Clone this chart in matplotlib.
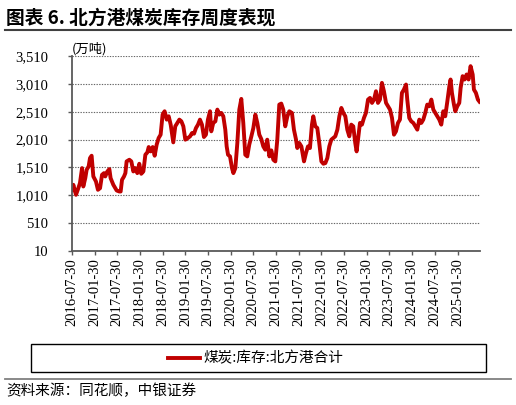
import matplotlib
matplotlib.use("Agg")
import matplotlib.pyplot as plt
import pandas as pd
from matplotlib.lines import Line2D
from matplotlib.patches import Rectangle

dates = [
    "2016-07-30", "2016-08-10", "2016-08-31", "2016-09-19", "2016-10-02", "2016-10-19", "2016-10-29",
    "2016-11-14", "2016-11-25", "2016-12-11", "2016-12-22", "2017-01-04", "2017-01-18", "2017-02-08",
    "2017-02-24", "2017-03-13", "2017-03-29", "2017-04-14", "2017-04-24", "2017-05-11", "2017-05-27",
    "2017-06-06", "2017-06-28", "2017-07-25", "2017-08-15", "2017-08-26", "2017-09-06", "2017-09-22",
    "2017-10-03", "2017-10-13", "2017-11-04", "2017-11-20", "2017-12-06", "2017-12-22", "2018-01-07",
    "2018-01-23", "2018-02-08", "2018-02-25", "2018-03-13", "2018-03-29", "2018-04-09", "2018-04-25",
    "2018-05-11", "2018-05-27", "2018-06-12", "2018-06-28", "2018-07-14", "2018-07-30", "2018-08-15",
    "2018-09-01", "2018-09-17", "2018-10-03", "2018-10-24", "2018-11-09", "2018-11-25", "2018-12-12",
    "2018-12-28", "2019-01-13", "2019-01-29", "2019-02-19", "2019-03-08", "2019-03-24", "2019-04-09",
    "2019-04-25", "2019-05-11", "2019-05-27", "2019-06-12", "2019-06-28", "2019-07-14", "2019-07-30",
    "2019-08-16", "2019-08-26", "2019-09-11", "2019-09-28", "2019-10-14", "2019-10-30", "2019-11-15",
    "2019-12-01", "2019-12-17", "2019-12-28", "2020-01-08", "2020-01-24", "2020-02-09", "2020-02-20",
    "2020-03-07", "2020-03-23", "2020-04-08", "2020-04-24", "2020-05-10", "2020-05-26", "2020-06-11",
    "2020-06-27", "2020-07-14", "2020-07-30", "2020-08-15", "2020-08-31", "2020-09-16", "2020-10-02",
    "2020-10-18", "2020-11-03", "2020-11-19", "2020-12-06", "2020-12-22", "2021-01-07", "2021-01-23",
    "2021-02-08", "2021-02-24", "2021-03-12", "2021-03-28", "2021-04-13", "2021-04-30", "2021-05-16",
    "2021-06-06", "2021-06-22", "2021-07-09", "2021-07-19", "2021-08-04", "2021-08-21", "2021-09-11",
    "2021-09-27", "2021-10-13", "2021-10-29", "2021-11-14", "2021-11-25", "2021-12-11", "2021-12-27",
    "2022-01-12", "2022-01-29", "2022-02-14", "2022-03-02", "2022-03-18", "2022-04-03", "2022-04-19",
    "2022-05-05", "2022-05-21", "2022-06-07", "2022-06-23", "2022-07-09", "2022-07-25", "2022-08-10",
    "2022-08-26", "2022-09-11", "2022-09-27", "2022-10-13", "2022-10-29", "2022-11-09", "2022-11-20",
    "2022-12-06", "2022-12-22", "2023-01-07", "2023-01-23", "2023-02-09", "2023-02-25", "2023-03-13",
    "2023-03-29", "2023-04-14", "2023-04-30", "2023-05-16", "2023-06-01", "2023-06-17", "2023-07-04",
    "2023-07-20", "2023-08-05", "2023-08-21", "2023-09-06", "2023-09-22", "2023-10-08", "2023-10-24",
    "2023-11-09", "2023-11-25", "2023-12-12", "2023-12-22", "2024-01-07", "2024-01-23", "2024-02-09",
    "2024-02-25", "2024-03-12", "2024-03-28", "2024-04-13", "2024-04-29", "2024-05-15", "2024-05-31",
    "2024-06-17", "2024-07-03", "2024-07-19", "2024-08-04", "2024-08-20", "2024-09-05", "2024-09-21",
    "2024-10-07", "2024-10-23", "2024-11-09", "2024-11-25", "2024-12-05", "2024-12-16", "2025-01-01",
    "2025-01-12", "2025-01-28", "2025-02-13", "2025-02-24", "2025-03-12", "2025-03-28", "2025-04-13",
    "2025-04-29", "2025-05-15", "2025-06-01", "2025-06-11", "2025-06-27", "2025-07-13", "2025-07-26",
]

inventory = [
    1108, 1198, 1018, 1138, 1228, 1498, 1168,
    1318, 1468, 1528, 1678, 1720, 1348, 1258,
    1108, 1138, 1378, 1408, 1348, 1438, 1480,
    1318, 1198, 1096, 1078, 1078, 1288, 1348,
    1408, 1618, 1648, 1618, 1438, 1498, 1408,
    1576, 1396, 1438, 1738, 1780, 1876, 1798,
    1876, 1720, 1918, 2038, 2098, 2458, 2518,
    2368, 2428, 2278, 1960, 2248, 2308, 2368,
    2338, 2248, 2008, 2038, 2068, 2128, 2116,
    2218, 2278, 2368, 2278, 2056, 2098, 2368,
    2518, 2158, 2308, 2338, 2548, 2458, 2488,
    2428, 2188, 1888, 1738, 1708, 1498, 1408,
    1498, 1948, 2548, 2740, 2308, 1738, 1708,
    1918, 2068, 2218, 2458, 2308, 2098, 2020,
    1888, 1828, 2008, 1708, 1816, 1648, 1618,
    2008, 2638, 2656, 2548, 2248, 2428, 2518,
    2488, 2188, 2008, 1858, 1948, 1888, 1618,
    1768, 1888, 1858, 2278, 2428, 2248, 2218,
    1948, 1618, 1576, 1588, 1678, 1888, 2008,
    2038, 2068, 2188, 2428, 2578, 2488, 2428,
    2188, 2068, 2278, 2248, 1948, 1798, 2008,
    2308, 2278, 2398, 2488, 2728, 2758, 2668,
    2728, 2878, 2668, 2728, 3028, 2878, 2668,
    2608, 2548, 2398, 2098, 2158, 2308, 2368,
    2848, 2908, 2998, 2728, 2398, 2338, 2308,
    2248, 2188, 2368, 2308, 2368, 2488, 2638,
    2608, 2728, 2548, 2488, 2428, 2368, 2278,
    2518, 2428, 2698, 2968, 3088, 2848, 2638,
    2518, 2608, 2668, 2938, 3148, 3088, 3178,
    3088, 3328, 3178, 2908, 2848, 2728, 2690,
]

y_ticks = [10, 510, 1010, 1510, 2010, 2510, 3010, 3510]
x_tick_labels = ["2016-07-30", "2017-01-30", "2017-07-30", "2018-01-30", "2018-07-30", "2019-01-30",
                 "2019-07-30", "2020-01-30", "2020-07-30", "2021-01-30", "2021-07-30", "2022-01-30",
                 "2022-07-30", "2023-01-30", "2023-07-30", "2024-01-30", "2024-07-30", "2025-01-30"]

title = "图表 6. 北方港煤炭库存周度表现"
unit = "(万吨)"
series_name = "煤炭:库存:北方港合计"
source = "资料来源：同花顺，中银证券"

cjk = ["Noto Sans CJK SC", "DejaVu Sans"]
serif = ["Liberation Serif", "DejaVu Serif"]
red = "#C00000"
axis_col = "#595959"

fig = plt.figure(figsize=(5.16, 4.05), dpi=100)
ax = fig.add_axes([72 / 516, 1 - 251 / 405, (480 - 72) / 516, (251 - 56) / 405])

x = pd.to_datetime(dates)
ax.plot(x, inventory, color=red, lw=2.8, solid_joinstyle="round")

ax.set_ylim(10, 3510)
ax.set_xlim(pd.Timestamp("2016-07-30"), pd.Timestamp("2025-07-30"))
ax.set_yticks(y_ticks)
ax.set_yticklabels([f"{v:,}" for v in y_ticks], fontfamily=serif, fontsize=10.5)
ax.set_xticks(pd.to_datetime(x_tick_labels))
ax.set_xticklabels(x_tick_labels, rotation=90, fontfamily=serif, fontsize=10.5)

ax.grid(axis="y", linestyle=(0, (1.2, 1.2)), color="#666666", lw=0.8)
ax.set_axisbelow(True)
for s in ["top", "right"]:
    ax.spines[s].set_visible(False)
for s in ["left", "bottom"]:
    ax.spines[s].set_color(axis_col)
    ax.spines[s].set_linewidth(1.3)
ax.tick_params(axis="both", direction="out", length=3, width=1, color=axis_col, pad=2)
ax.tick_params(axis="y", pad=14)

ax.text(0.0, 1.0, unit, transform=ax.transAxes, ha="left", va="bottom",
        fontfamily=cjk, fontsize=9.5)

fig.text(6 / 516, 1 - 18 / 405, title, ha="left", va="center",
         fontfamily=cjk, fontsize=13.5, fontweight="bold")
fig.add_artist(Line2D([5 / 516, 511 / 516], [1 - 30 / 405] * 2, color="#404040", lw=1.5))

fig.add_artist(Rectangle((31 / 516, 1 - 372 / 405), (486 - 31) / 516, (372 - 344) / 405,
                         fill=False, edgecolor="black", lw=1.0, transform=fig.transFigure))
fig.add_artist(Line2D([168 / 516, 200 / 516], [1 - 358 / 405] * 2, color=red, lw=2.8))
fig.text(203 / 516, 1 - 358 / 405, series_name, ha="left", va="center",
         fontfamily=cjk, fontsize=10.5)

fig.add_artist(Line2D([5 / 516, 511 / 516], [1 - 379 / 405] * 2, color="#808080", lw=1.3))
fig.text(6 / 516, 1 - 391 / 405, source, ha="left", va="center",
         fontfamily=cjk, fontsize=10.5, style="italic")

fig.savefig("out.png", dpi=100)
